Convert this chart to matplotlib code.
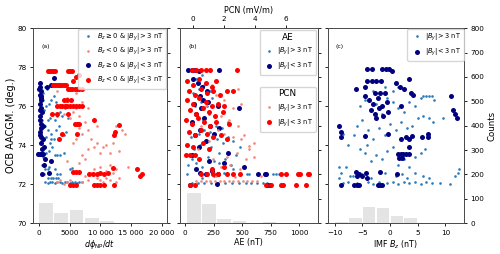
import matplotlib
matplotlib.use("Agg")
import matplotlib.pyplot as plt
from matplotlib.lines import Line2D

# ---------------- panel (a): dphi_NP/dt vs OCB latitude ----------------
a_bs_x = [1000, 1400, 1800, 2200, 2600, 3000, 3400, 3800, 4200, 4600, 5000, 5400, 5800, 6200, 6600, 7000,
          1500, 1900, 2300, 2700, 3100, 1000, 1400, 2600, 5000, 5400, 800, 3000, 3400,
          500, 700, 1200, 1600, 2200, 2600, 3000, 3500, 4000, 1800, 2400, 2000, 1500, 2800, 3200, 3600,
          4000, 4400, 1000, 1400, 1800, 2200, 2600, 3000, 3400, 3800, 4200, 4700, 500, 800, 1200, 1600,
          2000, 2400, 2800, 700, 1300, 900, 600, 300, 200, 400, 1100, 1600, 2000]
a_bs_y = [72.1, 72.05, 72.1, 72.1, 72.05, 72.1, 72.1, 72.05, 72.1, 72.1, 72.05, 72.1, 72.1, 72.05, 72.1, 72.1,
          72.3, 72.3, 72.3, 72.3, 72.3, 72.8, 72.8, 72.8, 72.8, 72.85, 72.5, 72.5, 72.5,
          73.0, 73.4, 73.6, 73.7, 73.9, 73.5, 73.5, 73.5, 73.6, 74.1, 74.3, 74.6, 74.8, 74.8, 75.0, 74.6,
          74.5, 74.7, 75.0, 75.3, 75.4, 75.6, 75.3, 75.5, 75.7, 75.5, 75.9, 75.4, 75.3, 75.8, 76.0, 76.1,
          76.3, 76.5, 76.2, 76.7, 76.9, 77.0, 76.3, 75.6, 74.9, 74.2, 74.4, 72.9, 74.3]

a_rs_x = [3000, 3500, 4000, 4500, 5000, 6000, 7000, 8000, 9000, 9500, 10000, 10500, 11000, 11500, 12500,
          8500, 9000, 10000, 11000, 12000, 11500, 12500, 6500, 7000, 7500, 8000, 8500, 9000, 9500, 10000,
          10500, 11000, 11500, 12000, 13000, 6000, 7000, 6500, 7500, 8000, 9500, 13500, 14000, 12500,
          5000, 5500, 6000, 7000, 6500, 4500, 8000, 3500, 4000, 5500, 4500, 7500, 5500, 13000, 14500,
          6000, 3000]
a_rs_y = [72.1, 72.2, 72.0, 72.1, 72.2, 72.0, 72.1, 72.2, 72.0, 72.3, 72.2, 72.1, 72.3, 72.2, 72.1,
          72.6, 72.8, 72.9, 72.7, 72.6, 73.0, 72.8, 73.1, 73.5, 73.3, 73.8, 74.3, 73.9, 74.1, 73.6,
          73.9, 74.0, 73.6, 74.1, 73.7, 74.3, 74.6, 74.9, 75.2, 74.8, 75.0, 74.8, 74.6, 75.0,
          75.4, 75.7, 75.9, 76.2, 75.5, 76.4, 75.9, 76.0, 75.6, 74.1, 73.2, 72.4, 72.6, 72.3, 72.9,
          76.7, 76.8]

a_nb_x = [100, 200, 300, 150, 400, 250, 100, 300, 500, 200, 150, 400, 350, 100, 200, 600, 300, 800, 500,
          -200, 100, 400, 700, 1000, 1900, 2400, 1300, 1900, 1600, 800, 500, 0, 200, 600, 400, 300]
a_nb_y = [77.2, 77.0, 76.8, 76.6, 76.5, 76.3, 76.1, 75.9, 75.7, 75.5, 75.3, 75.1, 74.9, 74.7, 74.5, 74.3,
          74.1, 73.9, 73.8, 73.55, 73.55, 73.55, 73.55, 73.3, 77.1, 77.45, 77.0, 73.2, 72.6, 73.0, 72.5,
          76.9, 75.8, 75.0, 74.4, 76.4]

a_rb_x = [1400, 1700, 2000, 2300, 2600, 4700, 5000, 5300,
          2300, 2600, 2900, 3200, 3500, 3800, 4100, 4400,
          4700, 5000, 5400, 5800, 6200, 6600, 7000, 5500, 6000, 6500,
          3000, 3400, 3800, 4200, 4600, 5000, 5500, 6000, 6500, 7000,
          4000, 4500, 5200, 2200, 3000, 4800, 5800, 6200, 6600, 6200, 3800, 3300,
          9000, 13000, 12400, 12300, 15900, 16400, 16800,
          5600, 6000, 6500, 8200, 8800, 9400, 10000, 10600, 11200, 12000,
          5000, 5500, 6000, 9000, 9500, 10000, 10600, 12300]
a_rb_y = [77.8, 77.8, 77.8, 77.8, 77.8, 77.8, 77.8, 77.8,
          77.1, 77.1, 77.1, 77.1, 77.1, 77.1, 77.1, 77.1,
          76.9, 76.9, 76.9, 76.9, 76.9, 76.9, 76.9, 77.3, 77.5, 77.6,
          76.0, 76.0, 76.0, 76.0, 76.0, 76.0, 76.0, 76.0, 76.0, 76.0,
          76.3, 76.3, 76.3, 75.6, 75.6, 75.6, 75.1, 75.1, 75.1, 74.6, 74.6, 74.3,
          75.3, 75.05, 74.7, 74.5, 72.8, 72.4, 72.55,
          72.65, 72.65, 72.65, 72.55, 72.5, 72.55, 72.6, 72.55, 72.6, 72.85,
          71.95, 71.95, 71.95, 71.95, 71.95, 71.95, 71.95, 71.95]

a_bins = [0, 2500, 5000, 7500, 10000, 12500, 15000]
a_counts = [83, 42, 54, 20, 11, 0, 2]

# ---------------- panel (b): AE / PCN vs OCB latitude ----------------
b_aes_x = [60, 110, 170, 230, 290, 350, 410, 470, 530, 580, 630, 680, 720,
           20, 540, 560, 770, 800, 820, 340, 420,
           30, 60, 100, 150, 200, 250, 300, 350, 400, 450, 80, 130, 180, 230, 280, 330, 380, 120, 170,
           220, 270, 320, 60, 110, 160, 210, 260, 40, 90, 140, 190, 240, 70, 120, 170, 220, 100, 150,
           50, 420, 380, 480, 300, 250, 150]
b_aes_y = [72.05, 72.05, 72.05, 72.05, 72.05, 72.05, 72.05, 72.05, 72.05, 72.05, 72.05, 72.05, 72.05,
           72.55, 72.55, 72.55, 72.55, 72.55, 72.55, 72.6, 72.8,
           73.0, 73.3, 73.1, 72.9, 73.4, 73.2, 73.6, 73.3, 73.0, 73.5, 73.8, 74.0, 74.2, 73.9, 74.3, 74.1,
           74.4, 74.6, 74.8, 74.7, 75.0, 74.9, 75.2, 75.4, 75.3, 75.6, 75.5, 75.8, 76.0, 76.2, 76.0, 76.4,
           76.7, 76.9, 77.1, 76.8, 77.4, 77.6, 74.4, 74.2, 75.2, 73.9, 73.1, 72.4, 72.3]

b_aeb_x = [30, 60, 90, 120, 295, 70, 110, 150, 190, 130, 160, 80, 200, 140, 470, 100, 170, 60, 220,
           130, 250, 90, 180, 300, 290, 120, 60, 380, 210, 130, 180, 240, 290, 640, 700, 710, 40, 720,
           740, 520, 340, 100, 280]
b_aeb_y = [77.85, 77.85, 77.85, 77.8, 77.85, 77.4, 77.2, 77.0, 76.8, 76.5, 76.3, 76.1, 76.2, 75.9, 75.9,
           75.6, 75.4, 75.2, 75.0, 74.8, 74.6, 74.5, 74.2, 74.9, 76.0, 73.9, 73.5, 73.6, 73.2, 72.6, 72.5,
           72.7, 72.5, 72.55, 72.55, 72.55, 71.98, 71.98, 71.98, 72.9, 73.1, 72.8, 72.0]

b_pcns_x = [0.2, 0.5, 0.8, 1.1, 1.4, 1.7, 2.0, 2.3, 2.6, 2.9, 3.2, 3.5, 3.8, 4.1,
            1.5, 2.1, 2.7, 1.2, 1.8, 2.4, 3.0, 3.4, 2.8, 2.2, 3.6, 3.9, 3.1, 3.3, 2.6, 2.0, 1.6, 2.9,
            2.3, 1.8, 2.6, 3.1, 2.0, 1.5, 2.5, 2.9, 1.2, 0.8, 0.5, 1.0, 0.3, 1.3, 3.6, 3.9, 4.4]
b_pcns_y = [72.15, 72.15, 72.15, 72.15, 72.15, 72.15, 72.15, 72.15, 72.15, 72.15, 72.15, 72.15, 72.15, 72.15,
            72.4, 72.5, 72.35, 72.7, 72.9, 73.0, 72.8, 73.3, 73.6, 73.4, 73.8, 74.1, 74.3, 74.5, 74.4,
            74.6, 74.8, 75.0, 75.3, 75.5, 75.9, 76.1, 76.3, 76.6, 76.8, 76.9, 77.1, 76.0, 75.0, 74.2,
            73.8, 73.3, 73.95, 73.4, 72.4]

b_pcnb_x = [-0.1, 0.2, 0.5, 0.8, 1.1, 2.8,
            -0.4, 0.0, 0.4, 0.8, 1.2, 1.5,
            -0.3, 0.1, 0.5, 0.9, 1.3, 1.7, 2.2, 2.6,
            -0.4, 0.0, 0.4, 0.8, 1.2, 1.6, 2.0,
            -0.2, 0.2, 0.6, 1.0, 1.4, 1.9,
            -0.5, -0.1, 0.3, 0.7, 1.1, 1.5, 2.3,
            -0.3, 0.1, 0.5, 0.9, 1.3, 1.8, 2.2,
            -0.4, 0.0, 0.6, 1.0,
            -0.5, -0.2, 0.1, 0.4,
            0.5, 0.9, 1.3, 1.6, 2.2, 2.6, 3.0, 1.2, 2.0,
            5.7, 6.0, 6.8, 6.9, 7.4, 7.5,
            -0.2, 0.1, 4.7, 5.0, 5.7, 5.8, 6.65, 7.3]
b_pcnb_y = [77.85, 77.85, 77.85, 77.85, 77.85, 77.85,
            77.3, 77.1, 77.4, 77.2, 77.0, 77.3,
            76.8, 76.6, 76.9, 76.7, 76.8, 76.6, 76.8, 76.8,
            76.3, 76.1, 76.4, 76.2, 76.0, 76.1, 76.0,
            75.8, 75.6, 75.9, 75.7, 75.5, 75.7,
            75.3, 75.1, 75.4, 75.2, 75.0, 75.2, 75.1,
            74.7, 74.5, 74.8, 74.6, 74.4, 74.5, 74.3,
            74.0, 73.9, 74.1, 73.8,
            73.5, 73.5, 73.5, 73.3,
            72.55, 72.55, 72.55, 72.55, 72.55, 72.55, 72.55, 72.8, 72.9,
            72.55, 72.55, 72.55, 72.55, 72.55, 72.55,
            71.98, 71.98, 71.98, 71.98, 71.98, 71.98, 71.98, 71.98]

b_bins = [20, 152, 284, 416, 548, 680]
b_counts = [123, 79, 19, 9, 2, 7]

# ---------------- panel (c): IMF Bz vs OCB latitude ----------------
c_s_x = [-8.5, -7.5, -6.0, -4.0, -3.0, -2.0, -0.5, 0.5, 1.5, 2.5, 3.5, 4.5, 5.5, 6.5, 7.5, 9.0, 10.8,
         -9.3, -8.8, -7.2, -5.0, -3.5, -1.0, 1.0, 2.2, 3.0, 4.5, 6.0, 7.0, 11.8, 12.2, 12.5, -9.3,
         -7.5, -6.5, -5.5, -4.5, -3.5, -2.5, -1.5, -0.5, 0.5, 1.5, 2.5, 3.5, 4.5, 5.5, 6.3, -8.5,
         -6.0, -5.0, -4.0, -3.0, -2.0, -1.0, 0.0, 1.0, 2.0, 3.0, 4.0, 5.0, 6.0, 7.0, 7.8, 9.5,
         -5.5, -4.5, -3.5, -2.5, -1.5, -0.5, 0.5, 1.5, 2.5, 3.5, 4.5, 5.5, 6.0, 6.5, 7.0, 7.5, 8.0,
         -3.0, -1.0, 0.5, 1.5, -2.0, -4.2, -6.7, -8.0]
c_s_y = [72.05, 72.1, 72.05, 72.1, 72.0, 72.1, 72.05, 72.1, 72.0, 72.1, 72.05, 72.1, 72.0, 72.1, 72.05,
         72.05, 72.0, 72.3, 72.6, 72.4, 72.5, 72.3, 72.6, 72.4, 72.5, 72.3, 72.6, 72.4, 72.3, 72.4, 72.6,
         72.8, 72.9, 74.0, 74.5, 73.8, 73.6, 73.2, 73.5, 73.3, 73.7, 73.9, 73.0, 73.3, 72.9, 73.4, 73.6,
         73.8, 74.6, 75.0, 75.3, 74.8, 74.3, 74.9, 74.5, 75.1, 74.8, 75.2, 74.9, 75.0, 75.4, 75.5, 75.4,
         75.2, 75.4, 76.0, 76.3, 75.8, 76.1, 75.6, 76.4, 76.2, 75.9, 75.7, 76.2, 76.0, 76.4, 76.5, 76.5,
         76.5, 76.5, 76.3, 76.8, 77.0, 76.8, 77.0, 77.3, 74.0, 72.4, 72.9]

c_b_x = [-4.1, -3.2, -1.4, -0.8, -0.2, 0.4,
         -4.1, -3.3, -2.5, -1.7, -4.6, -6.2,
         -2.7, -1.8, -1.0, 1.0, 1.8, 2.5, 3.4, 3.7, 4.2,
         -4.6, -3.8, -3.0, -2.2, -1.4, -0.6, 1.9,
         -3.5, -2.8, -2.0, -1.2, -2.5, -0.4,
         -4.6, -0.3, 1.9, 2.8, 3.4, 4.0, 5.7, 6.8, 6.8,
         1.4, 1.9, 2.4, 2.9, 3.4, 1.7, 2.1, 3.4,
         -6.2, -5.6, -5.0, -4.4, -4.1, -6.0, -1.9, 1.2,
         -6.5, -6.0, -5.6, -2.1, -1.8, -1.5, -8.9,
         11.0, 11.4, 11.7, 12.0, -9.3, -8.9, -8.9]
c_b_y = [77.9, 77.9, 77.9, 77.9, 77.9, 77.8,
         77.3, 77.3, 77.3, 77.3, 77.0, 76.9,
         76.7, 76.7, 76.7, 77.2, 77.0, 76.9, 77.4, 76.7, 76.6,
         76.5, 76.3, 76.1, 76.4, 76.0, 76.2, 76.0,
         75.8, 75.6, 75.9, 75.5, 75.4, 75.7,
         74.45, 74.6, 74.3, 74.4, 74.3, 74.45, 74.4, 74.6, 74.4,
         73.55, 73.55, 73.55, 73.55, 73.55, 73.33, 73.33, 73.9,
         72.65, 72.5, 72.4, 72.6, 72.3, 72.4, 72.65, 72.5,
         71.96, 71.96, 71.96, 71.96, 71.96, 71.96, 71.96,
         76.5, 75.8, 75.6, 75.4, 75.0, 74.7, 74.4]

c_bins = [-9.9, -7.4, -4.9, -2.4, 0.1, 2.6, 5.1, 7.6, 10.1]
c_counts = [4, 22, 68, 64, 30, 22, 3, 2, 2]

a_xticks = [0, 5000, 10000, 15000, 20000]
a_xticklabels = ["0", "5000", "10 000", "15 000", "20 000"]
ae_ticks = [0, 250, 500, 750, 1000]
pcn_ticks = [0, 2, 4, 6]
c_xticks = [-10, -5, 0, 5, 10]
y_ticks = [70, 72, 74, 76, 78, 80]
count_ticks = [0, 100, 200, 300, 400, 500, 600, 700, 800]

C_BS = "#2b7bba"
C_RS = "#f4877a"
C_NB = "navy"
C_RB = "red"
HIST = "#e4e4e4"
MS_S = 1.9
MS_B = 3.6
FS = 5.2
FL = 5.8

plt.rcParams["font.size"] = FS
plt.rcParams["xtick.labelsize"] = FS
plt.rcParams["ytick.labelsize"] = FS
plt.rcParams["xtick.major.size"] = 2.5
plt.rcParams["ytick.major.size"] = 2.5
plt.rcParams["xtick.major.pad"] = 2
plt.rcParams["ytick.major.pad"] = 2
plt.rcParams["xtick.major.width"] = 0.6
plt.rcParams["ytick.major.width"] = 0.6
plt.rcParams["axes.linewidth"] = 0.7
plt.rcParams["axes.edgecolor"] = "0.3"
plt.rcParams["axes.labelpad"] = 2

fig = plt.figure(figsize=(5.0, 2.54), dpi=100)
bottom, height = 0.121, 0.768
ax_a = fig.add_axes([0.0666, bottom, 0.2668, height])
ax_b = fig.add_axes([0.36, bottom, 0.2754, height])
ax_c = fig.add_axes([0.6554, bottom, 0.2732, height])


def add_hist(ax, edges, counts, width, labels):
    h = ax.twinx()
    h.bar(edges, counts, width=width * 0.9, align="edge", color=HIST, zorder=0)
    h.set_ylim(0, 800)
    h.set_yticks(count_ticks)
    if labels:
        h.set_ylabel("Counts", fontsize=FL + 0.4)
    else:
        h.set_yticklabels([])
    ax.set_zorder(h.get_zorder() + 1)
    ax.patch.set_visible(False)
    return h


def pts(ax, x, y, color, ms, label=None):
    ax.plot(x, y, "o", ls="none", color=color, ms=ms, mew=0, label=label)


# (a)
add_hist(ax_a, a_bins, a_counts, 2500, False)
pts(ax_a, a_bs_x, a_bs_y, C_BS, MS_S, r"$B_z \geq 0$ & $|B_y| > 3$ nT")
pts(ax_a, a_rs_x, a_rs_y, C_RS, MS_S, r"$B_z < 0$ & $|B_y| > 3$ nT")
pts(ax_a, a_nb_x, a_nb_y, C_NB, MS_B, r"$B_z \geq 0$ & $|B_y| < 3$ nT")
pts(ax_a, a_rb_x, a_rb_y, C_RB, MS_B, r"$B_z < 0$ & $|B_y| < 3$ nT")
ax_a.set_xlim(-930, 20820)
ax_a.set_ylim(70, 80)
ax_a.set_xticks(a_xticks)
ax_a.set_xticklabels(a_xticklabels)
ax_a.set_yticks(y_ticks)
ax_a.set_ylabel("OCB AACGM. (deg.)", fontsize=7.0, labelpad=1.5)
ax_a.set_xlabel(r"$d\phi_{\rm NP}/dt$", fontsize=FL)
ax_a.text(0.06, 0.9, "(a)", transform=ax_a.transAxes, fontsize=FS - 0.8)
ax_a.legend(loc="upper right", fontsize=FS - 0.3, borderaxespad=0.1, handletextpad=0.3,
            labelspacing=0.45, borderpad=0.4)

# (b)
add_hist(ax_b, b_bins, b_counts, 132, False)
top = ax_b.twiny()
top.set_zorder(ax_b.get_zorder() + 1)
top.patch.set_visible(False)
pts(ax_b, b_aes_x, b_aes_y, C_BS, MS_S)
pts(ax_b, b_aeb_x, b_aeb_y, C_NB, MS_B)
pts(top, b_pcns_x, b_pcns_y, C_RS, MS_S)
pts(top, b_pcnb_x, b_pcnb_y, C_RB, MS_B)
ax_b.set_xlim(-44, 1161)
top.set_xlim(-0.86, 8.05)
ax_b.set_ylim(70, 80)
ax_b.set_yticks(y_ticks)
ax_b.set_yticklabels([])
ax_b.set_xticks(ae_ticks)
top.set_xticks(pcn_ticks)
ax_b.set_xlabel("AE (nT)", fontsize=FL)
top.set_xlabel("PCN (mV/m)", fontsize=FL, labelpad=2)
ax_b.text(0.06, 0.9, "(b)", transform=ax_b.transAxes, fontsize=FS - 0.8)
h_ae = [Line2D([], [], marker="o", ls="none", color=C_BS, ms=MS_S, mew=0),
        Line2D([], [], marker="o", ls="none", color=C_NB, ms=MS_B, mew=0)]
h_pcn = [Line2D([], [], marker="o", ls="none", color=C_RS, ms=MS_S, mew=0),
         Line2D([], [], marker="o", ls="none", color=C_RB, ms=MS_B, mew=0)]
by_labels = [r"$|B_y| > 3$ nT", r"$|B_y| < 3$ nT"]
leg1 = top.legend(h_ae, by_labels, title="AE", loc="upper right", fontsize=FS - 0.5,
                  title_fontsize=FL + 0.6, borderaxespad=0.3, handletextpad=0.3, labelspacing=0.6)
top.add_artist(leg1)
top.legend(h_pcn, by_labels, title="PCN", loc="upper right", bbox_to_anchor=(1.0, 0.71),
           fontsize=FS - 0.5, title_fontsize=FL + 0.6, borderaxespad=0.3, handletextpad=0.3,
           labelspacing=0.6)

# (c)
add_hist(ax_c, c_bins, c_counts, 2.5, True)
pts(ax_c, c_s_x, c_s_y, C_BS, MS_S, r"$|B_y| > 3$ nT")
pts(ax_c, c_b_x, c_b_y, C_NB, MS_B, r"$|B_y| < 3$ nT")
ax_c.set_xlim(-11.25, 13.4)
ax_c.set_ylim(70, 80)
ax_c.set_yticks(y_ticks)
ax_c.set_yticklabels([])
ax_c.set_xticks(c_xticks)
ax_c.set_xlabel(r"IMF $B_z$ (nT)", fontsize=FL)
ax_c.text(0.06, 0.9, "(c)", transform=ax_c.transAxes, fontsize=FS - 0.8)
ax_c.legend(loc="upper right", fontsize=FS - 0.5, borderaxespad=0.1, handletextpad=0.3,
            labelspacing=0.6)

fig.savefig("out.png", dpi=100)
